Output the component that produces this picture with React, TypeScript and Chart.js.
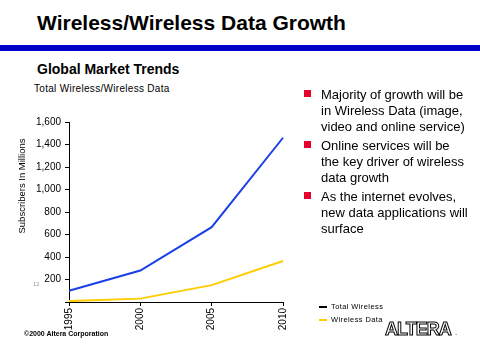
import React, { useEffect, useRef } from 'react';
import { Chart, registerables } from 'chart.js';

Chart.register(...registerables);

const years = ['1995', '2000', '2005', '2010'];
const totalWireless = [100, 280, 665, 1460];
const wirelessData = [8, 30, 150, 365];
const seriesNames = ['Total Wireless', 'Wireless Data'];
const yAxisTitle = 'Subscribers In Millions';
const bullets = [
  ['Majority of growth will be', 'in Wireless Data (image,', 'video and online service)'],
  ['Online services will be', 'the key driver of wireless', 'data growth'],
  ['As the internet evolves,', 'new data applications will', 'surface'],
];

const BLUE = '#1a40e8';
const YELLOW = '#ffcc00';
const FONT = 'Arial, "Liberation Sans", sans-serif';

const yTitlePlugin = {
  id: 'yTitle',
  afterDraw(chart: any) {
    const ctx = chart.ctx;
    ctx.save();
    ctx.translate(22, 186);
    ctx.rotate(-Math.PI / 2);
    ctx.font = '9.5px ' + FONT;
    ctx.textAlign = 'center';
    ctx.textBaseline = 'middle';
    ctx.fillStyle = '#000';
    ctx.fillText(yAxisTitle, 0, 0);
    ctx.restore();
  },
};

export default function App() {
  const ref = useRef<HTMLCanvasElement>(null);
  useEffect(() => {
    Chart.defaults.font.family = FONT;
    const chart = new Chart(ref.current!, {
      type: 'line',
      data: {
        labels: years,
        datasets: [
          { label: seriesNames[0], data: totalWireless, borderColor: BLUE, backgroundColor: BLUE, borderWidth: 2, pointRadius: 0, tension: 0, fill: false },
          { label: seriesNames[1], data: wirelessData, borderColor: YELLOW, backgroundColor: YELLOW, borderWidth: 2, pointRadius: 0, tension: 0, fill: false },
        ],
      },
      options: {
        responsive: false,
        maintainAspectRatio: false,
        animation: false,
        layout: { padding: { left: 0, top: 122, right: 197, bottom: 28 } },
        plugins: { legend: { display: false }, tooltip: { enabled: false }, title: { display: false } },
        scales: {
          x: {
            type: 'category',
            offset: false,
            grid: { drawOnChartArea: false, drawTicks: true, tickLength: 4, color: '#000' },
            border: { color: '#000', width: 1 },
            ticks: { color: '#000', font: { size: 10 }, minRotation: 90, maxRotation: 90, padding: 2, autoSkip: false },
            afterFit: (s: any) => { s.height = 30; },
          },
          y: {
            min: 0,
            max: 1600,
            ticks: {
              stepSize: 200,
              color: '#000',
              font: { size: 10 },
              padding: 4,
              callback: (v: any) => (Number(v) === 0 ? '' : Number(v).toLocaleString('en-US')),
            },
            grid: { drawOnChartArea: false, drawTicks: true, tickLength: 4, color: '#000' },
            border: { color: '#000', width: 1 },
            afterFit: (s: any) => { s.width = 69; },
          },
        },
      } as any,
      plugins: [yTitlePlugin],
    });
    return () => chart.destroy();
  }, []);

  return (
    <div style={{ position: 'fixed', left: 0, top: 0, width: 480, height: 360, background: '#fff', overflow: 'hidden', fontFamily: FONT, color: '#000' }}>
      <div style={{ position: 'absolute', left: 37, top: 11, fontSize: 21, fontWeight: 'bold', whiteSpace: 'nowrap' }}>
        Wireless/Wireless Data Growth
      </div>
      <div style={{ position: 'absolute', left: 0, top: 45, width: 480, height: 6, background: '#0000cc' }} />
      <div style={{ position: 'absolute', left: 37, top: 61, fontSize: 14, fontWeight: 'bold', whiteSpace: 'nowrap' }}>
        Global Market Trends
      </div>
      <div style={{ position: 'absolute', left: 34, top: 83, fontSize: 10, whiteSpace: 'nowrap', letterSpacing: 0.3 }}>
        Total Wireless/Wireless Data
      </div>
      <canvas ref={ref} width={480} height={360} style={{ position: 'absolute', left: 0, top: 0 }} />
      <div style={{ position: 'absolute', left: 33, top: 281, fontSize: 6, color: '#999' }}>12</div>
      <div style={{ position: 'absolute', left: 24, top: 330, fontSize: 7, fontWeight: 'bold', whiteSpace: 'nowrap' }}>
        ©2000 Altera Corporation
      </div>
      <div style={{ position: 'absolute', left: 304, top: 86.5, width: 175 }}>
        {bullets.map((lines, i) => (
          <div key={i} style={{ position: 'relative', marginBottom: 3 }}>
            <div style={{ position: 'absolute', left: 0, top: 3.5, width: 7, height: 7, background: '#e6002e' }} />
            <div style={{ marginLeft: 17, fontSize: 13, lineHeight: '16px', whiteSpace: 'nowrap' }}>
              {lines.map((l, j) => (<div key={j}>{l}</div>))}
            </div>
          </div>
        ))}
      </div>
      <div style={{ position: 'absolute', left: 319, top: 301, fontSize: 7.5, lineHeight: '12.5px', letterSpacing: 0.4 }}>
        {[{ name: seriesNames[0], c: '#000' }, { name: seriesNames[1], c: YELLOW }].map((it, i) => (
          <div key={i} style={{ display: 'flex', alignItems: 'center', whiteSpace: 'nowrap' }}>
            <span style={{ display: 'inline-block', width: 8, height: 2, background: it.c, marginRight: 4 }} />
            <span>{it.name}</span>
          </div>
        ))}
      </div>
      <div style={{ position: 'absolute', left: 385, top: 319, fontSize: 18, fontWeight: 'bold', letterSpacing: -1, color: '#fff', WebkitTextStroke: '1px #000', whiteSpace: 'nowrap' }}>
        ALTERA
      </div>
      <div style={{ position: 'absolute', left: 455, top: 328, fontSize: 8 }}>.</div>
    </div>
  );
}
